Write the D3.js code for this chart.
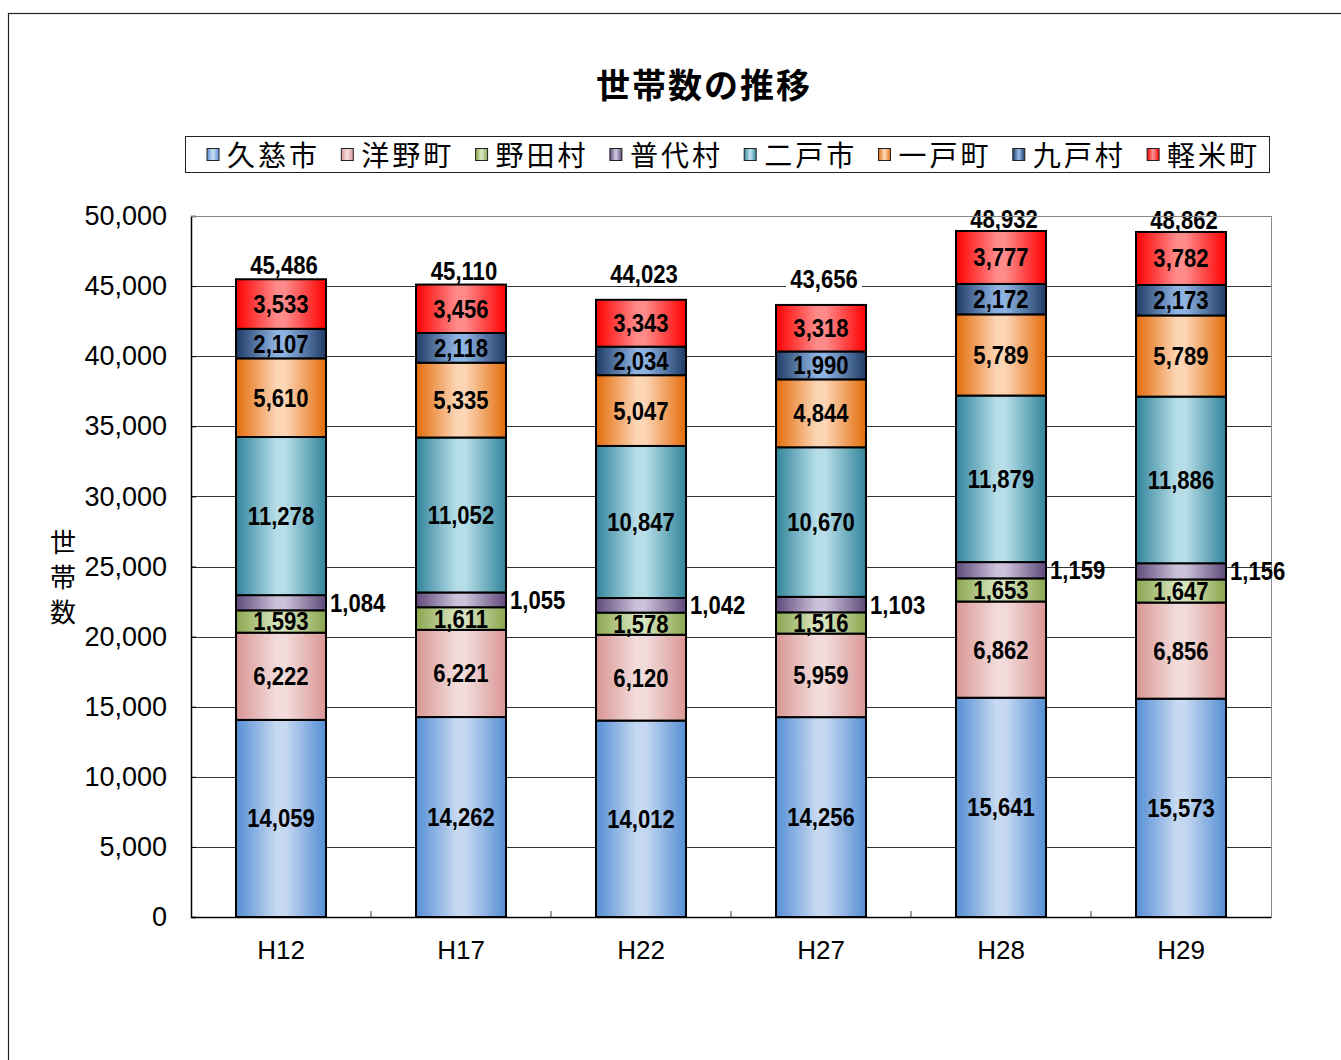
<!DOCTYPE html>
<html>
<head>
<meta charset="utf-8">
<script src="https://cdn.jsdelivr.net/npm/d3@7"></script>
<style>
  body { margin: 0; background: #fff; }
  svg { display: block; }
  .jp { font-family: "Noto Sans CJK JP", sans-serif; }
  .num { font-family: "Liberation Sans", Arial, sans-serif; font-weight: bold; }
</style>
</head>
<body>
<div id="chart"></div>
<script>
const years = ['H12', 'H17', 'H22', 'H27', 'H28', 'H29']
const seriesNames = ['久慈市', '洋野町', '野田村', '普代村', '二戸市', '一戸町', '九戸村', '軽米町']

const kuji = [14059, 14262, 14012, 14256, 15641, 15573]
const hirono = [6222, 6221, 6120, 5959, 6862, 6856]
const noda = [1593, 1611, 1578, 1516, 1653, 1647]
const fudai = [1084, 1055, 1042, 1103, 1159, 1156]
const ninohe = [11278, 11052, 10847, 10670, 11879, 11886]
const ichinohe = [5610, 5335, 5047, 4844, 5789, 5789]
const kunohe = [2107, 2118, 2034, 1990, 2172, 2173]
const karumai = [3533, 3456, 3343, 3318, 3777, 3782]

const yTicks = [0, 5000, 10000, 15000, 20000, 25000, 30000, 35000, 40000, 45000, 50000]

// edge colour / centre colour for each series gradient
const edgeColors = ['#558ed5', '#d99694', '#8aa64e', '#5f4a7a', '#31849b', '#e46c0a', '#1f3b66', '#ff0000']
const midColors = ['#c6d9f1', '#f2dcdb', '#d7e4bd', '#ccc1da', '#b7dee8', '#fcd5b5', '#8db3e2', '#ff8a8a']

// the total labels were nudged by hand in the original, lift in px above bar top
const totalLift = [5, 5, 17, 17, 3, 3]

const allSeries = [kuji, hirono, noda, fudai, ninohe, ichinohe, kunohe, karumai]

const rows = years.map((y, i) => {
  let r = { year: y }
  seriesNames.forEach((s, j) => r[s] = allSeries[j][i])
  return r
})
const stacked = d3.stack().keys(seriesNames)(rows)

const width = 1341, height = 1060
const margin = { top: 216, right: 70, bottom: 143, left: 191 }

const svg = d3.select('#chart').append('svg')
  .attr('width', width)
  .attr('height', height)

// outer frame
svg.append('rect')
  .attr('x', 8.5).attr('y', 13.5)
  .attr('width', width + 10).attr('height', height + 10)
  .attr('fill', 'none').attr('stroke', '#222').attr('stroke-width', 1.2)

const defs = svg.append('defs')
seriesNames.forEach((s, j) => {
  let g = defs.append('linearGradient')
    .attr('id', 'grad' + j)
    .attr('x1', 0).attr('x2', 1).attr('y1', 0).attr('y2', 0)
  g.append('stop').attr('offset', 0).attr('stop-color', edgeColors[j])
  g.append('stop').attr('offset', 0.45).attr('stop-color', midColors[j])
  g.append('stop').attr('offset', 0.55).attr('stop-color', midColors[j])
  g.append('stop').attr('offset', 1).attr('stop-color', edgeColors[j])
})

const x = d3.scaleBand()
  .domain(years)
  .range([margin.left, width - margin.right])
  .paddingInner(0.5)
  .paddingOuter(0.25)

const y = d3.scaleLinear()
  .domain([0, 50000])
  .range([height - margin.bottom, margin.top])

// title
svg.append('text')
  .attr('class', 'jp')
  .attr('x', 704).attr('y', 98)
  .attr('text-anchor', 'middle')
  .attr('font-size', 34).attr('font-weight', 'bold')
  .attr('letter-spacing', 2)
  .text('世帯数の推移')

// legend
const legend = svg.append('g')
legend.append('rect')
  .attr('x', 185.5).attr('y', 136.5)
  .attr('width', 1084).attr('height', 36)
  .attr('fill', '#fff').attr('stroke', '#222').attr('stroke-width', 1)

seriesNames.forEach((s, j) => {
  let lx = 207 + j * 134.3
  legend.append('rect')
    .attr('x', lx).attr('y', 148.5)
    .attr('width', 12).attr('height', 12)
    .attr('fill', 'url(#grad' + j + ')')
    .attr('stroke', '#222').attr('stroke-width', 1)
  legend.append('text')
    .attr('class', 'jp')
    .attr('x', lx + 20).attr('y', 166)
    .attr('font-size', 28)
    .attr('letter-spacing', 3)
    .text(s)
})

// gridlines (50,000 line is drawn later as the plot border)
svg.append('g')
  .selectAll('line')
  .data(yTicks.slice(1, -1))
  .enter()
  .append('line')
  .attr('x1', margin.left).attr('x2', width - margin.right)
  .attr('y1', d => Math.round(y(d)) + 0.5)
  .attr('y2', d => Math.round(y(d)) + 0.5)
  .attr('stroke', '#333')
  .attr('stroke-width', 1)

// right border of plot
svg.append('line')
  .attr('x1', width - margin.right + 0.5).attr('x2', width - margin.right + 0.5)
  .attr('y1', margin.top).attr('y2', height - margin.bottom)
  .attr('stroke', '#888')

// y axis
const yAxis = svg.append('g')
  .attr('transform', `translate(${margin.left},0)`)
  .call(d3.axisLeft(y).tickValues(yTicks).tickSize(-5).tickPadding(24).tickFormat(d3.format(',')))
yAxis.select('.domain').attr('stroke', '#000').attr('stroke-width', 1.5)
yAxis.selectAll('.tick line').attr('stroke', '#000')
yAxis.selectAll('text')
  .attr('font-family', '"Liberation Sans", sans-serif')
  .attr('font-size', 27)
  .attr('fill', '#000')

// y label
const ylab = svg.append('text')
  .attr('class', 'jp')
  .attr('font-size', 26)
  .attr('text-anchor', 'middle')
;['世', '帯', '数'].forEach((c, i) => {
  ylab.append('tspan').attr('x', 63).attr('y', 552 + i * 35).text(c)
})

// x axis
const xAxis = svg.append('g')
  .attr('transform', `translate(0,${height - margin.bottom})`)
  .call(d3.axisBottom(x).tickSize(0).tickPadding(24))
xAxis.select('.domain').attr('stroke', '#000').attr('stroke-width', 1.5)
xAxis.selectAll('text')
  .attr('font-family', '"Liberation Sans", sans-serif')
  .attr('font-size', 26)
  .attr('fill', '#000')

// category boundary ticks
const step = x.step()
svg.append('g')
  .selectAll('line')
  .data(d3.range(1, years.length))
  .enter()
  .append('line')
  .attr('x1', d => margin.left + d * step)
  .attr('x2', d => margin.left + d * step)
  .attr('y1', y(0)).attr('y2', y(0) - 6)
  .attr('stroke', '#444')

// bars
const layers = svg.append('g')
  .selectAll('g')
  .data(stacked)
  .enter()
  .append('g')
  .attr('fill', (d, j) => 'url(#grad' + j + ')')

layers.selectAll('rect')
  .data(d => d)
  .enter()
  .append('rect')
  .attr('x', d => x(d.data.year))
  .attr('y', d => y(d[1]))
  .attr('width', x.bandwidth())
  .attr('height', d => y(d[0]) - y(d[1]))
  .attr('stroke', '#000')
  .attr('stroke-width', 2)

// narrow bold number label
const fmt = d3.format(',')
function numLabel(g, tx, ty, anchor, txt) {
  return g.append('text')
    .attr('class', 'num')
    .attr('font-size', 26)
    .attr('text-anchor', anchor)
    .attr('transform', `translate(${tx},${ty}) scale(0.85,1)`)
    .text(txt)
}

// segment labels
const segLabels = svg.append('g')
stacked.forEach((layer, j) => {
  layer.forEach(d => {
    let mid = (y(d[0]) + y(d[1])) / 2 + 9
    if (j === 3) numLabel(segLabels, x(d.data.year) + x.bandwidth() + 4, mid, 'start', fmt(d[1] - d[0]))
    else numLabel(segLabels, x(d.data.year) + x.bandwidth() / 2, mid, 'middle', fmt(d[1] - d[0]))
  })
})

// totals, on white boxes like the original
const totals = svg.append('g')
stacked[stacked.length - 1].forEach((d, i) => {
  let cx = x(d.data.year) + x.bandwidth() / 2 + 3
  let by = y(d[1]) - totalLift[i]
  totals.append('rect')
    .attr('x', cx - 38).attr('y', by - 19)
    .attr('width', 76).attr('height', 20)
    .attr('fill', '#fff')
})

// top border of plot, behind the total numbers
svg.append('line')
  .attr('x1', margin.left).attr('x2', width - margin.right + 1)
  .attr('y1', margin.top + 0.5).attr('y2', margin.top + 0.5)
  .attr('stroke', '#888')

stacked[stacked.length - 1].forEach((d, i) => {
  let cx = x(d.data.year) + x.bandwidth() / 2 + 3
  numLabel(totals, cx, y(d[1]) - totalLift[i], 'middle', fmt(d[1]))
})
</script>
</body>
</html>
